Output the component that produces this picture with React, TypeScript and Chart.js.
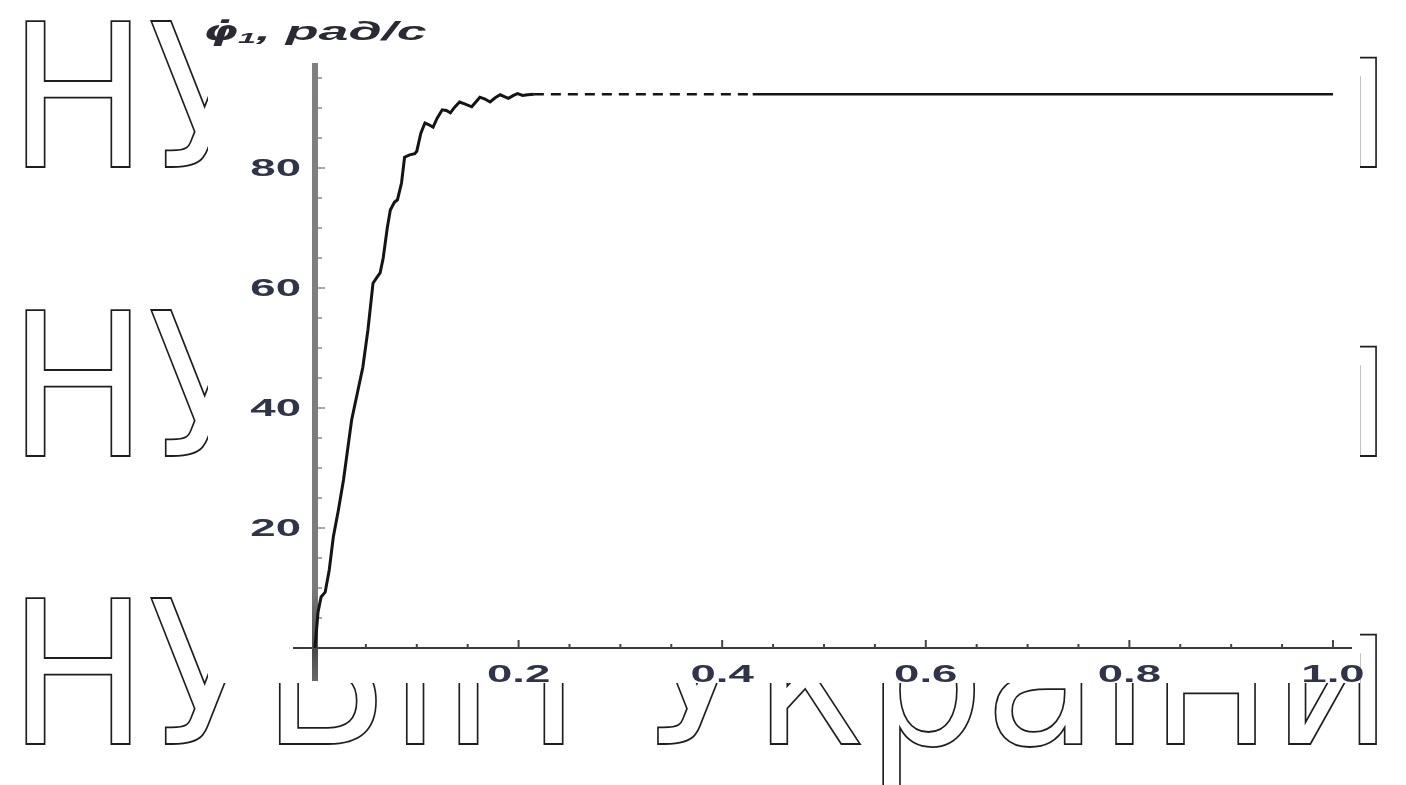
import React, { useEffect, useRef } from "react";
import { Chart, registerables } from "chart.js";

Chart.register(...registerables);

// ---- data ----
const timeValues = [
  0, 0.003, 0.006, 0.01, 0.014, 0.018, 0.023, 0.028, 0.032, 0.036, 0.041, 0.047,
  0.052, 0.057, 0.061, 0.064, 0.067, 0.071, 0.074, 0.078, 0.081, 0.085, 0.088,
  0.093, 0.098, 0.1, 0.104, 0.108, 0.112, 0.116, 0.12, 0.125, 0.129, 0.133,
  0.137, 0.142, 0.147, 0.154, 0.158, 0.162, 0.167, 0.172, 0.177, 0.182, 0.186,
  0.19, 0.195, 0.199, 0.204, 0.209, 0.215, 0.43, 1.0,
];
const speedValues = [
  0, 6, 8.5, 9.3, 13, 18.5, 23, 28, 33, 38, 42, 46.8,
  53, 60.8, 61.8, 62.5, 65, 70, 73, 74.3, 74.7, 77.5, 81.8,
  82.2, 82.4, 82.8, 85.8, 87.5, 87.2, 86.8, 88.3, 89.7, 89.6, 89.2,
  90.1, 91.0, 90.7, 90.2, 91.0, 91.8, 91.5, 91.0, 91.7, 92.2, 91.9,
  91.6, 92.1, 92.4, 92.1, 92.2, 92.3, 92.3, 92.3,
];

const xTickValues = [0.2, 0.4, 0.6, 0.8, 1.0];
const xTickLabels = ["0.2", "0.4", "0.6", "0.8", "1.0"];
const xMinorValues = [
  0.05, 0.1, 0.15, 0.25, 0.3, 0.35, 0.45, 0.5, 0.55, 0.65, 0.7, 0.75, 0.85, 0.9, 0.95,
];
const yTickValues = [20, 40, 60, 80];
const yTickLabels = ["20", "40", "60", "80"];
const yMinorValues = [5, 10, 15, 25, 30, 35, 45, 50, 55, 65, 70, 75, 85, 90, 95];

const axisTitle = { symbol: "φ̇", sub: "1", rest: ", рад/с" };
const watermarkText = "НУБіП України";

function stretchedText(
  ctx: CanvasRenderingContext2D,
  text: string,
  x: number,
  y: number,
  sx: number,
  align: CanvasTextAlign
) {
  ctx.save();
  ctx.translate(x, y);
  ctx.scale(sx, 1);
  ctx.textAlign = align;
  ctx.fillText(text, 0, 0);
  ctx.restore();
}

const decorPlugin = {
  id: "decor",
  beforeDraw(chart: any) {
    const ctx: CanvasRenderingContext2D = chart.ctx;
    ctx.save();
    ctx.fillStyle = "#ffffff";
    ctx.fillRect(0, 0, chart.width, chart.height);
    // watermark (outlined text)
    ctx.font = '200px "DejaVu Sans"';
    const w = ctx.measureText(watermarkText).width;
    const sx = 1385 / w;
    ctx.strokeStyle = "#1e1e1e";
    for (const base of [167, 456, 744]) {
      ctx.save();
      ctx.translate(8, base);
      ctx.scale(sx, 1);
      ctx.lineWidth = 1.8;
      ctx.textBaseline = "alphabetic";
      ctx.strokeText(watermarkText, 0, 0);
      ctx.restore();
    }
    // the chart picture covers the watermark
    ctx.fillStyle = "#ffffff";
    ctx.fillRect(208, 0, 1152, 683);
    ctx.restore();
  },
  beforeDatasetsDraw(chart: any) {
    const ctx: CanvasRenderingContext2D = chart.ctx;
    const xs = chart.scales.x;
    const ys = chart.scales.y;
    const area = chart.chartArea;
    const x0 = xs.getPixelForValue(0);
    const y0 = ys.getPixelForValue(0);
    ctx.save();
    // x axis
    ctx.strokeStyle = "#3a3a3a";
    ctx.lineWidth = 2;
    ctx.beginPath();
    ctx.moveTo(area.left, y0);
    ctx.lineTo(area.right, y0);
    ctx.stroke();
    // x ticks (pointing up)
    ctx.lineWidth = 2;
    ctx.strokeStyle = "#444";
    for (const v of xMinorValues) {
      const p = xs.getPixelForValue(v);
      ctx.beginPath();
      ctx.moveTo(p, y0);
      ctx.lineTo(p, y0 - 4);
      ctx.stroke();
    }
    for (const v of xTickValues) {
      const p = xs.getPixelForValue(v);
      ctx.beginPath();
      ctx.moveTo(p, y0);
      ctx.lineTo(p, y0 - 8);
      ctx.stroke();
    }
    // y axis (thick grey, darker toward the origin)
    const grad = ctx.createLinearGradient(0, area.top, 0, area.bottom);
    grad.addColorStop(0, "#808080");
    grad.addColorStop(0.85, "#7a7a7a");
    grad.addColorStop(0.95, "#4a4a4a");
    grad.addColorStop(1, "#6a6a6a");
    ctx.strokeStyle = grad;
    ctx.lineWidth = 6;
    ctx.beginPath();
    ctx.moveTo(x0, area.top);
    ctx.lineTo(x0, area.bottom);
    ctx.stroke();
    // y ticks (pointing right)
    ctx.strokeStyle = "#8a8a8a";
    ctx.lineWidth = 1.5;
    for (const v of yMinorValues) {
      const p = ys.getPixelForValue(v);
      ctx.beginPath();
      ctx.moveTo(x0 + 3, p);
      ctx.lineTo(x0 + 7, p);
      ctx.stroke();
    }
    for (const v of yTickValues) {
      const p = ys.getPixelForValue(v);
      ctx.beginPath();
      ctx.moveTo(x0 + 3, p);
      ctx.lineTo(x0 + 10, p);
      ctx.stroke();
    }
    ctx.restore();
  },
  afterDraw(chart: any) {
    const ctx: CanvasRenderingContext2D = chart.ctx;
    const xs = chart.scales.x;
    const ys = chart.scales.y;
    const x0 = xs.getPixelForValue(0);
    const y0 = ys.getPixelForValue(0);
    ctx.save();
    ctx.fillStyle = "#2f3448";
    ctx.font = 'bold 24px "Liberation Sans"';
    ctx.textBaseline = "middle";
    yTickValues.forEach((v, i) => {
      stretchedText(ctx, yTickLabels[i], x0 - 14, ys.getPixelForValue(v) + 1, 1.9, "right");
    });
    xTickValues.forEach((v, i) => {
      stretchedText(ctx, xTickLabels[i], xs.getPixelForValue(v), y0 + 27, 1.9, "center");
    });
    // axis title
    ctx.textBaseline = "alphabetic";
    ctx.fillStyle = "#2a2a35";
    let cx = 203;
    const base = 40;
    const sx = 2.15;
    ctx.font = 'italic bold 26px "DejaVu Sans"';
    stretchedText(ctx, axisTitle.symbol, cx, base, sx * 0.8, "left");
    cx += ctx.measureText(axisTitle.symbol).width * sx * 0.8;
    ctx.font = 'italic bold 15px "Liberation Sans"';
    stretchedText(ctx, axisTitle.sub, cx, base + 3, sx, "left");
    cx += ctx.measureText(axisTitle.sub).width * sx;
    ctx.font = 'italic bold 25px "Liberation Sans"';
    stretchedText(ctx, axisTitle.rest, cx, base, sx, "left");
    ctx.restore();
  },
};

export default function App() {
  const canvasRef = useRef<HTMLCanvasElement | null>(null);

  useEffect(() => {
    const canvas = canvasRef.current;
    if (!canvas) return;
    const points = timeValues.map((t, i) => ({ x: t, y: speedValues[i] }));
    const chart = new Chart(canvas, {
      type: "line",
      data: {
        datasets: [
          {
            data: points,
            borderColor: "#141414",
            borderWidth: 3,
            pointRadius: 0,
            tension: 0,
            fill: false,
            segment: {
              borderDash: (c: any) =>
                c.p0.parsed.x >= 0.214 && c.p1.parsed.x <= 0.431 ? [10, 7] : undefined,
              borderWidth: (c: any) => (c.p0.parsed.x >= 0.214 ? 2.4 : 3),
            },
          },
        ],
      },
      options: {
        animation: false,
        responsive: true,
        maintainAspectRatio: false,
        layout: { padding: { left: 293, right: 54, top: 63, bottom: 104 } },
        plugins: {
          legend: { display: false },
          tooltip: { enabled: false },
          title: { display: false },
        },
        scales: {
          x: { type: "linear", display: false, min: -0.0216, max: 1.0187 },
          y: { type: "linear", display: false, min: -5.5, max: 97.5 },
        },
      },
      plugins: [decorPlugin],
    });
    return () => chart.destroy();
  }, []);

  return (
    <div
      style={{
        position: "fixed",
        left: 0,
        top: 0,
        width: 1406,
        height: 785,
        background: "#fff",
      }}
    >
      <canvas ref={canvasRef} />
    </div>
  );
}
